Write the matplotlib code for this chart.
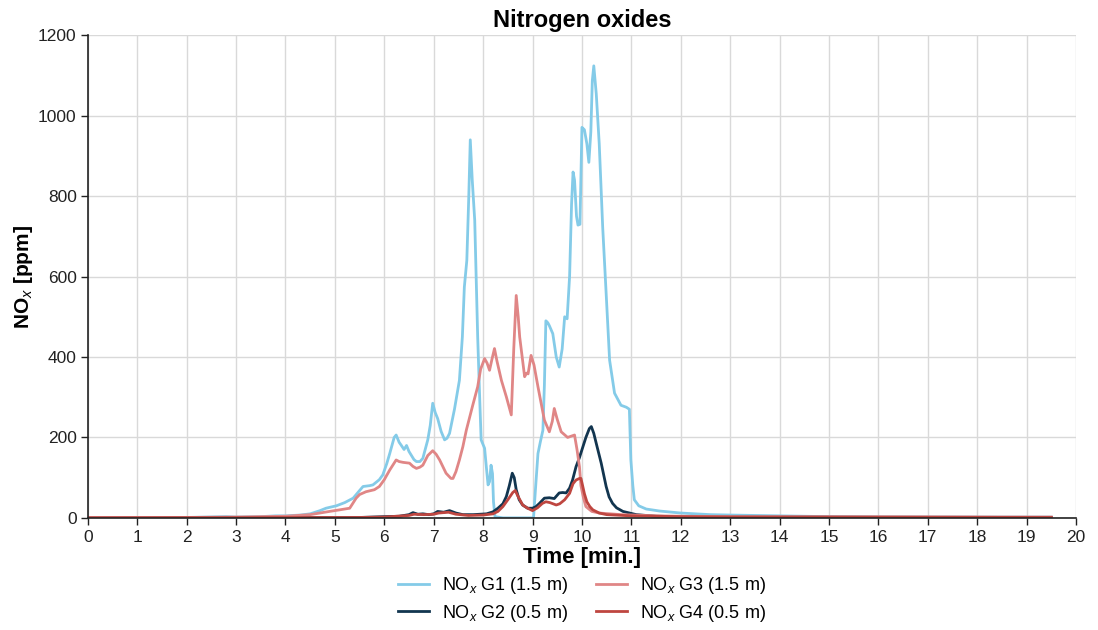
import matplotlib
matplotlib.use("Agg")
import matplotlib.pyplot as plt

plt.rcParams['font.family'] = ['Liberation Sans', 'DejaVu Sans']
plt.rcParams['mathtext.fontset'] = 'custom'
plt.rcParams['mathtext.rm'] = 'Liberation Sans'
plt.rcParams['mathtext.it'] = 'Liberation Sans:italic'
plt.rcParams['mathtext.bf'] = 'Liberation Sans:bold'

# G1 (1.5 m)
t_g1 = [0, 1, 2, 2.8, 3.0, 3.5, 3.8, 4.0, 4.3, 4.5, 4.7, 4.82, 5.03, 5.2, 5.37, 5.5, 5.57, 5.7,
        5.77, 5.9, 5.97, 6.05, 6.11, 6.2, 6.24, 6.3, 6.34, 6.4, 6.45, 6.5, 6.6, 6.65, 6.72, 6.78,
        6.88, 6.93, 6.98, 7.03, 7.08, 7.15, 7.22, 7.27, 7.32, 7.42, 7.52, 7.58, 7.62, 7.67, 7.71,
        7.74, 7.78, 7.83, 7.89, 7.93, 7.96, 8.03, 8.07, 8.10, 8.13, 8.16, 8.19, 8.21, 8.24, 8.4,
        8.8, 9.02, 9.07, 9.11, 9.16, 9.21, 9.24, 9.27, 9.31, 9.34, 9.41, 9.48, 9.54, 9.6, 9.65,
        9.70, 9.75, 9.79, 9.82, 9.85, 9.89, 9.92, 9.96, 10.0, 10.05, 10.1, 10.14, 10.18, 10.21,
        10.24, 10.29, 10.35, 10.42, 10.49, 10.56, 10.66, 10.79, 10.9, 10.96, 10.99, 11.03, 11.06,
        11.15, 11.3, 11.57, 12.0, 12.6, 13.0, 14, 15, 16, 17, 18, 19.5]
v_g1 = [1, 1, 1, 3, 2, 3, 5, 5, 7, 10, 18, 24, 30, 38, 49, 68, 78, 80,
        82, 95, 107, 135, 160, 200, 206, 188, 181, 170, 180, 165, 145, 140, 140, 148,
        194, 230, 285, 262, 247, 215, 194, 198, 210, 270, 342, 450, 574, 640, 800,
        940, 840, 740, 450, 300, 194, 173, 120, 82, 90, 131, 110, 40, 3, 0,
        0, 0, 90, 160, 190, 218, 330, 490, 485, 478, 458, 400, 375, 420, 500,
        495, 600, 780, 860, 840, 750, 728, 730, 971, 965, 930, 884, 960, 1087,
        1124, 1054, 930, 723, 558, 392, 310, 280, 275, 270, 144, 80, 45,
        30, 22, 17, 12, 8, 7, 5, 3, 2, 2, 2, 2]

# G2 (0.5 m)
t_g2 = [0, 5.5, 6.0, 6.3, 6.5, 6.58, 6.68, 6.78, 6.9, 7.0, 7.08, 7.2, 7.32, 7.45, 7.59, 7.8,
        8.07, 8.2, 8.3, 8.4, 8.47, 8.53, 8.59, 8.63, 8.67, 8.73, 8.80, 8.9, 9.0, 9.07, 9.14,
        9.24, 9.34, 9.44, 9.54, 9.61, 9.68, 9.75, 9.81, 9.88, 9.95, 10.08, 10.15, 10.19, 10.24,
        10.29, 10.39, 10.49, 10.55, 10.62, 10.7, 10.83, 11.1, 11.5, 12, 13, 19.5]
v_g2 = [0, 1, 3, 4, 8, 13, 9, 10, 8, 10, 16, 14, 18, 12, 8, 8,
        10, 15, 24, 35, 53, 80, 111, 100, 70, 45, 32, 24, 24, 28, 36,
        49, 50, 48, 62, 63, 62, 74, 94, 127, 150, 200, 222, 227, 210,
        185, 136, 78, 52, 36, 25, 16, 8, 4, 3, 2, 1]

# G3 (1.5 m)
t_g3 = [0, 2, 3, 3.5, 4.0, 4.5, 4.89, 5.1, 5.3, 5.43, 5.5, 5.63, 5.8, 5.9, 6.0, 6.11, 6.24,
        6.3, 6.38, 6.51, 6.58, 6.65, 6.72, 6.78, 6.88, 6.98, 7.05, 7.12, 7.25, 7.35, 7.39, 7.45,
        7.52, 7.59, 7.66, 7.79, 7.89, 7.95, 8.03, 8.08, 8.13, 8.18, 8.23, 8.28, 8.37, 8.47, 8.57,
        8.62, 8.67, 8.71, 8.74, 8.84, 8.88, 8.91, 8.97, 9.03, 9.11, 9.24, 9.34, 9.4, 9.44, 9.5,
        9.58, 9.71, 9.85, 9.9, 9.95, 9.98, 10.03, 10.08, 10.2, 10.35, 10.8, 11.5, 12, 13, 19.5]
v_g3 = [1, 1, 2, 3, 4, 8, 16, 20, 24, 49, 58, 65, 70, 78, 95, 119, 144,
        140, 138, 136, 128, 123, 126, 131, 155, 167, 158, 144, 111, 98, 98, 115,
        144, 177, 218, 280, 326, 370, 396, 385, 367, 395, 421, 390, 342, 301, 256,
        420, 553, 500, 450, 351, 360, 358, 404, 380, 326, 243, 214, 240, 272, 245,
        214, 200, 206, 170, 127, 80, 50, 28, 16, 12, 8, 5, 4, 3, 2]

# G4 (0.5 m)
t_g4 = [0, 5.5, 6.0, 6.5, 6.6, 6.8, 7.0, 7.1, 7.3, 7.45, 7.7, 8.0, 8.2, 8.3, 8.4, 8.5, 8.6,
        8.65, 8.7, 8.8, 8.9, 9.0, 9.1, 9.2, 9.27, 9.35, 9.48, 9.55, 9.65, 9.75, 9.82, 9.88,
        9.95, 9.98, 10.01, 10.05, 10.1, 10.16, 10.22, 10.35, 10.5, 11, 12, 13, 19.5]
v_g4 = [0, 1, 2, 6, 9, 8, 9, 12, 14, 9, 6, 7, 10, 16, 28, 45, 63,
        68, 55, 32, 24, 18, 25, 36, 40, 38, 32, 35, 45, 61, 85, 94,
        98, 98, 82, 60, 40, 28, 20, 12, 8, 5, 3, 2, 1]

x_ticks = list(range(0, 21))
y_ticks = [0, 200, 400, 600, 800, 1000, 1200]

fig = plt.figure(figsize=(10.98, 6.3), dpi=100)
ax = fig.add_axes([0.080, 0.178, 0.900, 0.766])

ax.plot(t_g1, v_g1, color='#84cbe8', lw=2, label=r'NO$_x$ G1 (1.5 m)')
ax.plot(t_g2, v_g2, color='#12354f', lw=2, label=r'NO$_x$ G2 (0.5 m)')
ax.plot(t_g3, v_g3, color='#e08686', lw=2, label=r'NO$_x$ G3 (1.5 m)')
ax.plot(t_g4, v_g4, color='#bf4640', lw=2, label=r'NO$_x$ G4 (0.5 m)')

ax.set_xlim(0, 20)
ax.set_ylim(0, 1200)
ax.set_xticks(x_ticks)
ax.set_yticks(y_ticks)
ax.grid(True, color='#d9d9d9', lw=1)
ax.set_axisbelow(True)
for s in ['top', 'right']:
    ax.spines[s].set_visible(False)
for s in ['left', 'bottom']:
    ax.spines[s].set_color('#222222')
    ax.spines[s].set_linewidth(1.2)
ax.tick_params(direction='out', length=5, width=1, labelsize=12.5, colors='#222222')
ax.tick_params(axis='y', pad=3)

ax.set_title('Nitrogen oxides', fontsize=17, fontweight='bold', pad=6)
ax.set_xlabel('Time [min.]', fontsize=16, fontweight='bold', labelpad=2)
ax.set_ylabel(r'$\mathbf{NO}_{\mathbf{\mathit{x}}}$ [ppm]', fontsize=15, fontweight='bold', labelpad=2)

ax.legend(loc='upper center', bbox_to_anchor=(0.5, -0.104), ncol=2, frameon=False,
          fontsize=13, handlelength=1.7, handletextpad=0.7, columnspacing=1.6,
          labelspacing=0.35, borderaxespad=0.0)

fig.savefig('out.png', dpi=100)
